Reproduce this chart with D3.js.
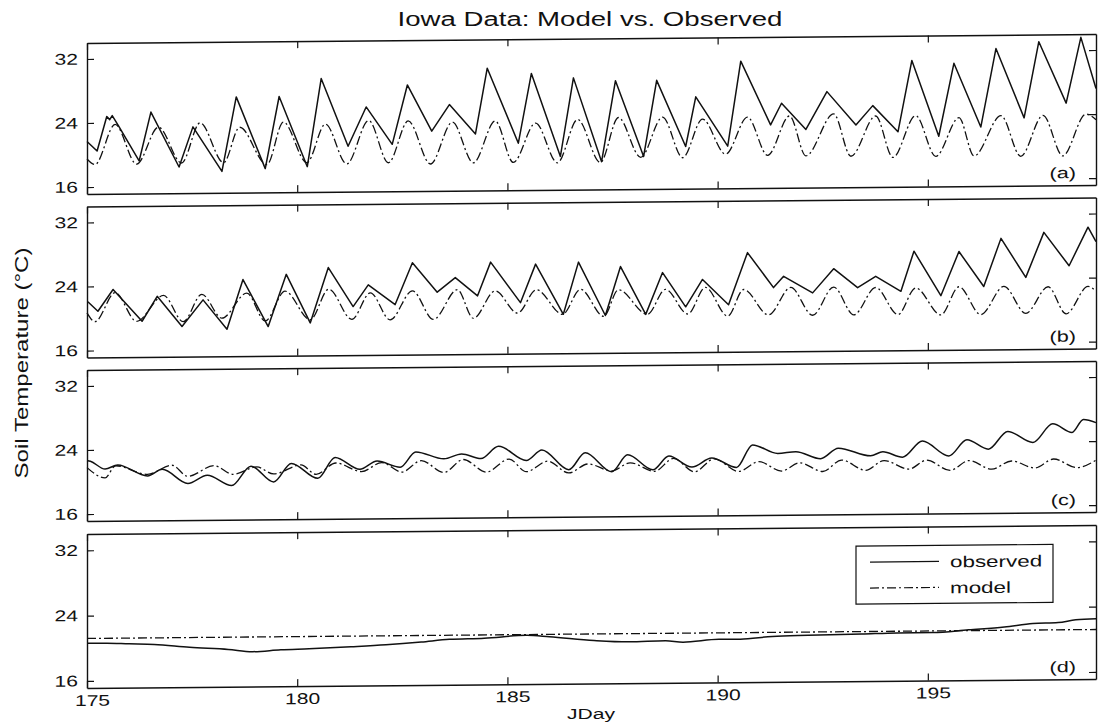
<!DOCTYPE html>
<html><head><meta charset="utf-8">
<script src="https://cdn.jsdelivr.net/npm/d3@7"></script>
<style>
body{margin:0;background:#fff;}
svg{display:block;}
text{font-family:"Liberation Sans", Arial, sans-serif; fill:#111;}
</style></head><body>
<svg id="chart" width="1099" height="723"></svg>
<script>
// ---------- data ----------
const titleText = "Iowa Data: Model vs. Observed";
const xLabel = "JDay";
const yLabel = "Soil Temperature (°C)";
const xTicks = [175, 180, 185, 190, 195];
const yTicks = [16, 24, 32];
const panelLabels = ["(a)", "(b)", "(c)", "(d)"];
const seriesNames = ["observed", "model"];

const obsDaysA = [175.00,175.24,175.47,175.54,175.60,175.75,176.24,176.52,177.19,177.52,178.21,178.55,179.24,179.57,180.24,180.57,181.21,181.64,182.26,182.62,183.20,183.62,184.24,184.52,185.26,185.57,186.26,186.57,187.24,187.57,188.24,188.55,189.24,189.48,190.24,190.55,191.26,191.52,192.10,192.60,193.29,193.69,194.29,194.62,195.26,195.62,196.26,196.62,197.29,197.64,198.29,198.64,199.00];
const obsA = [21.7,20.5,24.8,24.4,24.9,23.6,19.2,25.3,18.4,23.4,17.8,27.1,18.1,27.1,18.3,29.3,20.8,25.7,21.0,28.4,22.6,25.9,22.2,30.4,21.0,29.7,19.3,29.1,18.6,28.7,19.2,28.7,20.4,26.6,20.4,31.0,23.0,25.7,22.4,27.1,22.9,25.3,22.0,30.9,21.4,30.5,22.5,32.3,23.6,33.1,25.4,33.6,27.2];
const modDaysA = [175.00,175.19,175.67,176.18,176.70,177.25,177.69,178.25,178.63,179.28,179.67,180.23,180.67,181.18,181.70,182.17,182.64,183.17,183.69,184.19,184.71,185.14,185.67,186.19,186.67,187.21,187.64,188.17,188.69,189.17,189.64,190.19,190.71,191.19,191.71,192.10,192.76,193.17,193.76,194.17,194.71,195.19,195.74,196.10,196.74,197.21,197.74,198.21,198.76,199.00];
const modA = [19.5,18.8,23.8,18.8,23.4,18.9,23.9,18.9,23.3,18.6,23.9,18.8,23.6,18.6,24.0,18.7,23.9,18.5,23.7,18.6,23.8,18.6,23.5,18.5,23.9,18.5,24.1,19.1,24.1,19.0,23.8,19.4,24.0,19.2,24.1,19.1,24.3,19.0,24.0,18.8,24.0,18.9,23.7,18.9,23.9,18.8,23.9,18.8,24.0,23.3];

const obsDaysB = [175.02,175.26,175.62,176.31,176.67,177.26,177.76,178.33,178.71,179.31,179.74,180.31,180.74,181.33,181.69,182.33,182.74,183.33,183.76,184.29,184.60,185.31,185.67,186.33,186.69,187.33,187.69,188.29,188.69,189.24,189.64,190.26,190.71,191.33,191.57,192.26,192.76,193.33,193.76,194.36,194.67,195.31,195.74,196.33,196.74,197.33,197.76,198.36,198.81,199.00];
const obsB = [22.1,20.9,23.6,19.6,22.7,18.9,22.2,18.5,24.7,18.8,25.3,19.2,26.1,21.2,23.9,21.4,26.6,22.9,24.7,22.4,26.6,21.5,26.3,20.0,26.5,19.8,25.9,19.9,25.1,20.8,24.2,21.0,27.5,23.1,24.5,22.4,25.4,23.0,24.4,22.5,27.5,21.9,27.4,23.0,29.0,24.1,29.7,25.5,30.3,28.5];
const modDaysB = [175.00,175.19,175.67,176.18,176.82,177.29,177.73,178.21,178.80,179.24,179.71,180.31,180.75,181.30,181.74,182.21,182.74,183.24,183.81,184.19,184.71,185.24,185.69,186.31,186.74,187.29,187.64,188.33,188.76,189.29,189.71,190.24,190.62,191.21,191.74,192.26,192.76,193.24,193.76,194.29,194.71,195.31,195.74,196.26,196.81,197.33,197.86,198.29,198.81,199.00];
const modB = [20.7,19.6,23.2,19.6,22.8,19.5,22.9,19.9,23.0,19.5,23.2,19.6,23.4,19.6,22.9,19.5,23.1,19.5,23.2,19.6,23.0,20.2,23.1,20.0,23.1,19.7,23.0,19.9,23.0,19.9,23.2,19.6,22.9,19.7,23.1,19.6,23.1,19.6,23.0,19.6,22.9,19.5,23.0,19.5,23.0,19.6,22.9,19.5,22.9,22.3];

const obsDaysC = [175.00,175.08,175.43,175.73,176.44,176.79,177.40,177.86,178.44,178.90,179.44,179.86,180.49,180.90,181.49,181.90,182.45,182.82,183.49,183.91,184.37,184.79,185.45,185.82,186.46,186.85,187.48,187.86,188.46,188.84,189.39,189.86,190.45,190.83,191.43,191.86,192.45,192.87,193.64,193.93,194.40,194.87,195.50,195.93,196.44,196.90,197.50,197.97,198.43,198.70,199.00];
const obsC = [22.7,22.6,21.6,22.1,20.7,21.5,19.7,20.7,19.4,21.8,19.8,22.1,20.2,22.8,21.3,22.3,21.5,23.4,22.5,23.1,22.5,24.0,22.2,23.5,21.0,23.1,20.7,22.8,20.9,22.6,21.2,22.3,21.1,23.9,22.8,23.0,22.1,23.4,22.4,22.9,22.2,24.2,22.3,24.3,23.1,25.3,23.9,26.2,25.1,26.7,26.3];
const modDaysC = [175.00,175.43,175.68,176.44,177.02,177.40,178.02,178.48,179.04,179.44,180.09,180.45,180.92,181.53,182.01,182.49,182.95,183.49,183.95,184.50,185.04,185.45,185.96,186.46,186.92,187.48,187.92,188.50,188.95,189.45,189.92,190.50,190.98,191.52,191.95,192.50,192.95,193.52,193.96,194.55,194.97,195.53,195.98,196.52,196.99,197.55,197.99,198.55,199.00];
const modC = [21.8,20.5,22.0,20.9,22.0,20.6,21.9,20.8,21.7,20.8,21.9,20.7,22.1,21.0,22.1,20.9,22.3,20.8,22.4,20.8,22.4,20.8,22.1,20.6,21.7,20.8,21.8,20.7,22.3,20.6,22.2,20.6,21.8,20.6,21.6,20.5,21.9,20.6,21.8,20.7,21.8,20.5,21.7,20.6,21.6,20.7,21.8,20.7,21.6];

const obsDaysD = [175.00,175.45,176.00,176.60,177.44,178.36,178.94,179.61,180.28,181.28,182.11,182.95,183.62,184.45,185.45,186.00,187.06,187.90,188.76,189.18,190.03,190.54,191.30,192.15,193.43,194.27,195.12,195.97,196.82,197.50,198.10,198.52,199.00];
const obsD = [20.6,20.6,20.5,20.4,20.0,19.7,19.4,19.6,19.7,19.9,20.1,20.4,20.7,20.8,21.1,20.9,20.4,20.2,20.3,20.1,20.4,20.4,20.7,20.8,20.9,21.0,21.0,21.3,21.6,22.0,22.1,22.4,22.5];
const modDaysD = [175.00, 199.00];
const modD = [21.2, 21.2];

// ---------- layout ----------
const W = 1099, H = 723;
const left = 87, right = 1096;
const tops = [43, 206.5, 370, 534];
const heights = [151, 151, 151, 154];
const yDomain = [15.13, 34.0];
const K = 1.36;            // the printed font is wider than Arial
const fontSize = 15.5;

const svg = d3.select("#chart");
svg.append("rect").attr("width", W).attr("height", H).attr("fill", "#fff");

// widen glyphs about the text's own anchor point
function widen(sel, k) {
  sel.each(function () {
    const t = d3.select(this);
    const x = +t.attr("x") || 0, y = +t.attr("y") || 0;
    const prev = t.attr("transform") || "";
    t.attr("x", 0).attr("y", 0).attr("transform", `${prev} translate(${x},${y}) scale(${k},1)`);
  });
}

const x = d3.scaleLinear().domain([175, 199]).range([left, right]);

const panels = [
  {od: obsDaysA, ov: obsA, md: modDaysA, mv: modA, curveObs: d3.curveLinear},
  {od: obsDaysB, ov: obsB, md: modDaysB, mv: modB, curveObs: d3.curveLinear},
  {od: obsDaysC, ov: obsC, md: modDaysC, mv: modC, curveObs: d3.curveMonotoneX},
  {od: obsDaysD, ov: obsD, md: modDaysD, mv: modD, curveObs: d3.curveMonotoneX}
];

// the scanned figure is slightly tilted
const g = svg.append("g").attr("transform", `translate(${left},0) skewY(-0.51) translate(${-left},0)`);

const dashModel = "9,3,2,3";

panels.forEach((p, i) => {
  const top = tops[i], bottom = tops[i] + heights[i];
  const y = d3.scaleLinear().domain(yDomain).range([bottom, top]);
  const pg = g.append("g");

  const lineObs = d3.line().x(d => x(d[0])).y(d => y(d[1])).curve(p.curveObs);
  const lineMod = d3.line().x(d => x(d[0])).y(d => y(d[1])).curve(d3.curveMonotoneX);

  pg.append("path").datum(d3.zip(p.md, p.mv)).attr("d", lineMod)
    .attr("fill", "none").attr("stroke", "#111").attr("stroke-width", 1.3)
    .attr("stroke-dasharray", dashModel);
  pg.append("path").datum(d3.zip(p.od, p.ov)).attr("d", lineObs)
    .attr("fill", "none").attr("stroke", "#111").attr("stroke-width", 1.5)
    .attr("stroke-linejoin", "round");

  const axL = pg.append("g").attr("transform", `translate(${left},0)`)
    .call(d3.axisLeft(y).tickValues(yTicks).tickSizeInner(-7).tickSizeOuter(0).tickPadding(9));
  const axR = pg.append("g").attr("transform", `translate(${right},0)`)
    .call(d3.axisRight(y).tickValues(yTicks).tickSizeInner(-7).tickSizeOuter(0).tickFormat(""));
  const axT = pg.append("g").attr("transform", `translate(0,${top})`)
    .call(d3.axisTop(x).tickValues(xTicks).tickSizeInner(-7).tickSizeOuter(0).tickFormat(""));
  const axB = pg.append("g").attr("transform", `translate(0,${bottom})`)
    .call(d3.axisBottom(x).tickValues(xTicks).tickSizeInner(-7).tickSizeOuter(0).tickPadding(4)
      .tickFormat(i === 3 ? d3.format("d") : ""));

  [axL, axR, axT, axB].forEach(a => {
    a.attr("font-family", null).attr("font-size", null);
    a.select(".domain").attr("stroke", "#111").attr("stroke-width", 1.4);
    a.selectAll(".tick line").attr("stroke", "#111").attr("stroke-width", 1.2);
    a.selectAll(".tick text").attr("fill", "#111").style("font-size", fontSize + "px");
  });
  widen(axL.selectAll(".tick text"), K);
  if (i === 3) {
    axB.selectAll(".tick text").attr("x", 5).attr("dy", "0.9em");
    widen(axB.selectAll(".tick text"), K);
  }

  const lab = pg.append("text").attr("x", 1076).attr("y", bottom - 7)
    .attr("text-anchor", "end").style("font-size", fontSize + "px").text(panelLabels[i]);
  widen(lab, 1.4);

  if (i === 3) {
    const lg = pg.append("g");
    lg.append("rect").attr("x", 856).attr("y", 553).attr("width", 197).attr("height", 58)
      .attr("fill", "#fff").attr("stroke", "#111").attr("stroke-width", 1.2);
    const rows = [{name: seriesNames[0], dash: null, ly: 569},
                  {name: seriesNames[1], dash: dashModel, ly: 595}];
    rows.forEach(r => {
      lg.append("line").attr("x1", 870).attr("x2", 939).attr("y1", r.ly).attr("y2", r.ly)
        .attr("stroke", "#111").attr("stroke-width", 1.2).attr("stroke-dasharray", r.dash);
      const t = lg.append("text").attr("x", 950).attr("y", r.ly + 6)
        .style("font-size", "16px").text(r.name);
      widen(t, 1.4);
    });
  }
});

// title and axis labels
const tt = svg.append("text").attr("x", 590).attr("y", 26).attr("text-anchor", "middle")
  .style("font-size", "20px").text(titleText);
widen(tt, 1.38);

const xl = svg.append("text").attr("x", 591).attr("y", 719).attr("text-anchor", "middle")
  .style("font-size", fontSize + "px").text(xLabel);
widen(xl, K);

const yl = svg.append("text").attr("transform", "translate(28,363) rotate(-90)")
  .attr("text-anchor", "middle").style("font-size", "18.5px").text(yLabel);
widen(yl, 1.3);
</script>
</body></html>
